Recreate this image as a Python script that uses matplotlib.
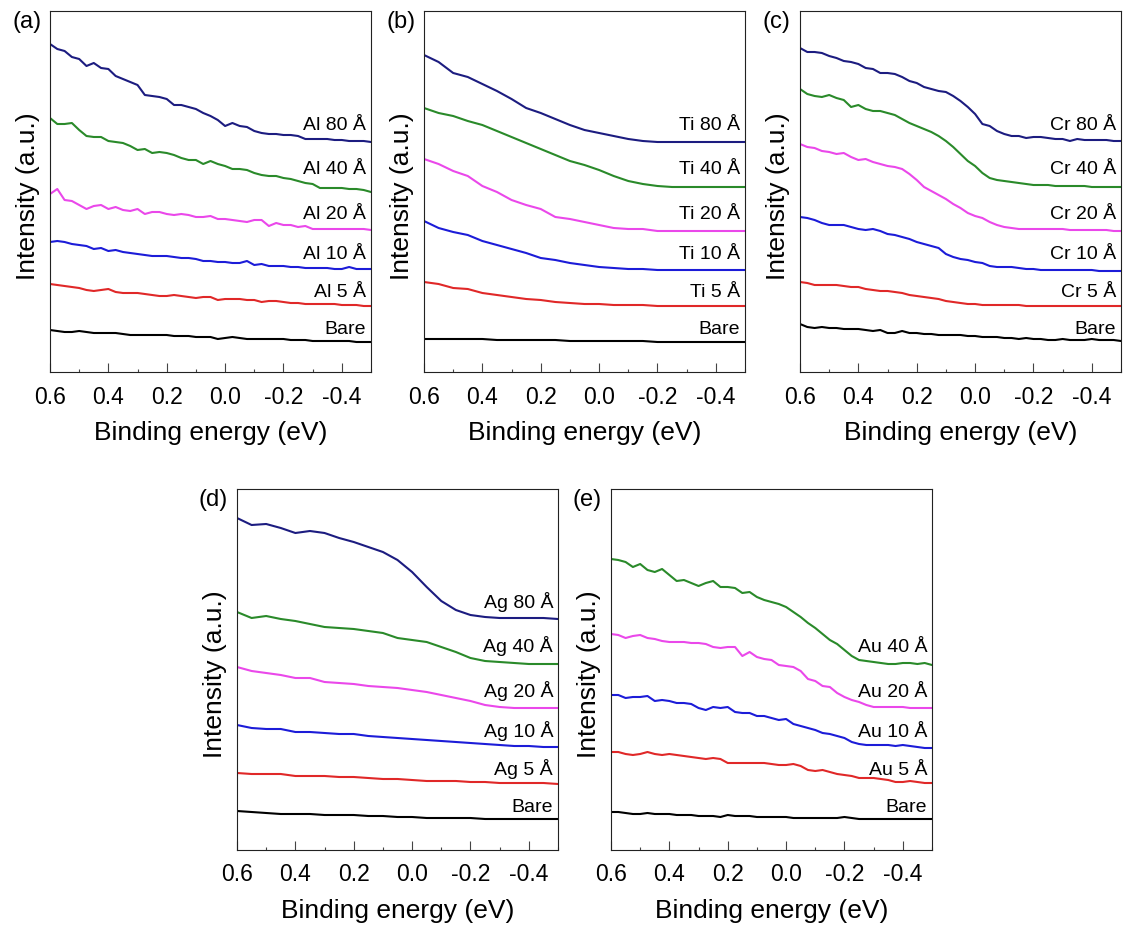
import matplotlib.pyplot as plt
from matplotlib.ticker import MultipleLocator, FormatStrFormatter

plt.rcParams['font.family'] = ['Liberation Sans', 'DejaVu Sans']
plt.rcParams['axes.unicode_minus'] = False

# binding energy grids (eV)
energy = [0.60, 0.55, 0.50, 0.45, 0.40, 0.35, 0.30, 0.25, 0.20, 0.15, 0.10, 0.05,
          0.00, -0.05, -0.10, -0.15, -0.20, -0.25, -0.30, -0.35, -0.40, -0.45, -0.50]
energy_fine = [0.600, 0.575, 0.550, 0.525, 0.500, 0.475, 0.450, 0.425, 0.400,
               0.375, 0.350, 0.325, 0.300, 0.275, 0.250, 0.225, 0.200, 0.175,
               0.150, 0.125, 0.100, 0.075, 0.050, 0.025, 0.000, -0.025, -0.050,
               -0.075, -0.100, -0.125, -0.150, -0.175, -0.200, -0.225, -0.250,
               -0.275, -0.300, -0.325, -0.350, -0.375, -0.400, -0.425, -0.450,
               -0.475, -0.500]

# (a) Al overlayers, stacked intensity (a.u.), fine grid
al_bare = [42, 41, 40, 40, 41, 40, 39, 39, 39, 39, 38, 37, 37, 37, 37, 37, 37, 36, 36, 36, 35, 35, 35,
           33, 34, 35, 34, 33, 33, 33, 33, 33, 33, 32, 32, 32, 31, 31, 31, 31, 31, 31, 30, 30, 30]
al_5 = [88, 87, 86, 85, 84, 82, 81, 82, 83, 80, 79, 79, 79, 78, 77, 76, 76, 77, 76, 75, 74, 75, 75,
        72, 73, 73, 73, 72, 72, 70, 71, 71, 70, 69, 69, 68, 68, 68, 68, 68, 67, 67, 67, 66, 66]
al_10 = [130, 131, 130, 128, 127, 126, 123, 124, 121, 122, 120, 119, 118, 117, 116, 116, 116, 115, 114,
         114, 113, 111, 111, 110, 110, 109, 109, 111, 107, 108, 106, 106, 106, 105, 105, 104, 104, 104,
         104, 103, 103, 105, 103, 103, 103]
al_20 = [178, 183, 172, 171, 167, 163, 166, 167, 163, 165, 162, 161, 163, 158, 160, 160, 158, 157, 158,
         157, 155, 155, 156, 153, 153, 152, 151, 150, 152, 152, 146, 149, 147, 147, 145, 146, 143, 143,
         143, 143, 143, 143, 143, 143, 142]
al_40 = [254, 248, 248, 249, 242, 236, 235, 235, 231, 230, 229, 226, 222, 223, 219, 220, 219, 217, 214,
         212, 212, 208, 211, 208, 206, 203, 203, 202, 199, 197, 196, 196, 194, 193, 191, 189, 188, 184,
         184, 184, 184, 183, 183, 182, 180]
al_80 = [328, 323, 321, 315, 313, 306, 309, 304, 303, 296, 293, 290, 287, 277, 276, 275, 273, 267, 267,
         265, 263, 259, 256, 252, 246, 249, 246, 245, 241, 239, 238, 238, 237, 237, 236, 233, 233, 233,
         233, 232, 232, 231, 231, 231, 230]

# (b) Ti overlayers, coarse grid
ti_bare = [33, 33, 33, 33, 33, 32, 32, 32, 32, 32, 31, 31, 31, 31, 31, 31, 30, 30, 30, 30, 30, 30, 30]
ti_5 = [90, 88, 84, 83, 79, 77, 75, 73, 72, 70, 69, 68, 68, 67, 67, 67, 66, 66, 66, 66, 66, 66, 66]
ti_10 = [151, 144, 140, 137, 131, 127, 123, 119, 114, 112, 109, 107, 105, 104, 103, 103, 102, 102, 102, 102, 102, 102, 102]
ti_20 = [213, 208, 201, 196, 186, 180, 172, 167, 163, 155, 153, 150, 147, 144, 143, 143, 141, 141, 141, 141, 141, 141, 141]
ti_40 = [264, 259, 256, 251, 247, 241, 235, 229, 223, 217, 211, 207, 202, 196, 191, 188, 186, 185, 185, 185, 185, 185, 185]
ti_80 = [317, 310, 299, 295, 288, 281, 273, 264, 259, 253, 247, 242, 239, 236, 233, 231, 230, 230, 230, 230, 230, 230, 230]

# (c) Cr overlayers, fine grid
cr_bare = [48, 45, 44, 45, 44, 44, 43, 43, 43, 42, 41, 42, 39, 39, 41, 39, 39, 38, 38, 37, 37, 37, 37,
           36, 36, 35, 35, 35, 34, 34, 33, 34, 33, 33, 32, 32, 33, 32, 32, 32, 33, 32, 32, 32, 31]
cr_5 = [90, 89, 87, 87, 87, 87, 86, 85, 85, 83, 82, 81, 81, 80, 79, 77, 76, 75, 74, 73, 71, 70, 69,
        68, 68, 67, 67, 67, 67, 67, 67, 66, 66, 66, 66, 66, 66, 66, 66, 66, 66, 66, 66, 66, 66]
cr_10 = [155, 154, 152, 149, 147, 147, 147, 145, 143, 142, 143, 141, 138, 137, 135, 133, 130, 128, 126,
         124, 118, 115, 113, 112, 110, 109, 106, 105, 105, 105, 104, 103, 103, 102, 102, 102, 102, 102,
         102, 102, 102, 101, 101, 101, 101]
cr_20 = [228, 225, 224, 221, 220, 218, 219, 215, 212, 213, 210, 208, 206, 205, 203, 198, 192, 185, 181,
         177, 173, 168, 164, 159, 156, 154, 150, 147, 145, 144, 143, 143, 143, 143, 143, 143, 143, 142,
         142, 142, 142, 142, 142, 141, 141]
cr_40 = [283, 278, 276, 275, 277, 274, 272, 265, 267, 263, 261, 261, 259, 257, 253, 249, 246, 243, 240,
         236, 231, 225, 218, 211, 206, 199, 194, 192, 191, 190, 189, 188, 187, 187, 187, 186, 186, 186,
         186, 186, 185, 185, 185, 185, 185]
cr_80 = [324, 320, 320, 319, 316, 314, 311, 310, 308, 304, 303, 299, 299, 298, 295, 291, 289, 285, 283,
         281, 280, 276, 271, 265, 258, 248, 246, 241, 238, 236, 236, 234, 235, 235, 234, 233, 233, 231,
         233, 232, 232, 232, 232, 231, 231]

# (d) Ag overlayers, coarse grid
ag_bare = [39, 38, 37, 36, 36, 36, 35, 35, 35, 34, 34, 33, 33, 32, 32, 32, 32, 31, 31, 31, 31, 31, 31]
ag_5 = [77, 76, 76, 76, 74, 74, 74, 73, 73, 72, 71, 71, 70, 69, 69, 69, 68, 68, 67, 67, 67, 67, 66]
ag_10 = [125, 122, 121, 121, 118, 118, 117, 116, 116, 114, 113, 112, 111, 110, 109, 108, 107, 106, 105, 104, 104, 103, 103]
ag_20 = [183, 179, 177, 175, 172, 172, 168, 167, 166, 164, 163, 162, 160, 158, 155, 152, 149, 145, 143, 142, 142, 142, 142]
ag_40 = [238, 232, 234, 231, 229, 226, 223, 222, 221, 219, 217, 212, 210, 208, 203, 198, 192, 189, 188, 187, 186, 186, 186]
ag_80 = [332, 325, 326, 322, 317, 319, 317, 312, 308, 303, 298, 290, 278, 263, 249, 240, 235, 233, 232, 232, 232, 232, 231]

# (e) Au overlayers, fine grid
au_bare = [38, 38, 37, 36, 36, 37, 36, 36, 36, 35, 35, 35, 34, 34, 34, 33, 35, 34, 34, 34, 33, 33, 33,
           33, 33, 32, 32, 32, 32, 32, 32, 32, 33, 32, 31, 31, 31, 31, 31, 31, 31, 31, 31, 31, 31]
au_5 = [98, 98, 96, 95, 96, 98, 96, 95, 96, 95, 94, 93, 92, 91, 92, 91, 87, 87, 87, 87, 87, 87, 86,
        85, 85, 86, 84, 80, 79, 80, 78, 76, 75, 74, 72, 72, 72, 71, 70, 68, 68, 69, 68, 67, 67]
au_10 = [155, 155, 152, 153, 153, 154, 149, 150, 149, 147, 147, 146, 142, 140, 143, 142, 143, 138, 137,
         137, 134, 134, 132, 130, 131, 126, 124, 122, 120, 117, 116, 114, 112, 108, 106, 105, 105, 105,
         105, 104, 105, 104, 103, 102, 102]
au_20 = [216, 215, 212, 214, 215, 212, 211, 209, 208, 208, 208, 207, 207, 206, 203, 202, 203, 203, 194,
         198, 193, 191, 190, 185, 184, 183, 179, 171, 169, 164, 163, 157, 153, 150, 148, 145, 143, 143,
         143, 143, 143, 142, 142, 142, 142]
au_40 = [291, 290, 288, 283, 286, 280, 278, 281, 275, 269, 270, 267, 264, 267, 269, 263, 263, 262, 257,
         258, 253, 250, 248, 246, 243, 238, 233, 227, 222, 216, 210, 206, 200, 194, 190, 189, 188, 187,
         186, 186, 187, 187, 186, 187, 185]

thicknesses = ['Bare', '5', '10', '20', '40', '80']
colors = ['black', '#e02828', '#1c1cd8', '#ea48ea', '#2a8a2a', '#1c1c80']
label_y = [39, 76, 114, 154, 199, 243]

panels = [
    ('(a)', 'Al', energy_fine, [al_bare, al_5, al_10, al_20, al_40, al_80]),
    ('(b)', 'Ti', energy, [ti_bare, ti_5, ti_10, ti_20, ti_40, ti_80]),
    ('(c)', 'Cr', energy_fine, [cr_bare, cr_5, cr_10, cr_20, cr_40, cr_80]),
    ('(d)', 'Ag', energy, [ag_bare, ag_5, ag_10, ag_20, ag_40, ag_80]),
    ('(e)', 'Au', energy_fine, [au_bare, au_5, au_10, au_20, au_40]),
]

W, H = 1126, 929
fig = plt.figure(figsize=(W / 100, H / 100), dpi=100)

# left/top corner of each frame in pixels
corners = [(50, 12), (424, 12), (800, 12), (237, 490), (611, 490)]
aw, ah = 321, 361

for (tag, metal, x, spectra), (x0, y0) in zip(panels, corners):
    ax = fig.add_axes([x0 / W, 1 - (y0 + ah) / H, aw / W, ah / H])
    for i, spec in enumerate(spectra):
        ax.plot(x, spec, color=colors[i], lw=1.5)
        txt = 'Bare' if i == 0 else '%s %s Å' % (metal, thicknesses[i])
        ax.text(-0.483, label_y[i], txt, ha='right', va='baseline', fontsize=14)

    ax.set_xlim(0.6, -0.5)
    ax.set_ylim(0, ah)
    ax.set_yticks([])
    ax.xaxis.set_major_locator(MultipleLocator(0.2))
    ax.xaxis.set_minor_locator(MultipleLocator(0.1))
    ax.xaxis.set_major_formatter(FormatStrFormatter('%.1f'))
    ax.tick_params(axis='x', which='major', direction='in', length=6.5, width=0.8,
                   color='#444444', labelsize=16.5, pad=9)
    ax.tick_params(axis='x', which='minor', direction='in', length=2.5, width=0.8,
                   color='#444444')
    for sp in ax.spines.values():
        sp.set_linewidth(0.8)
        sp.set_color('#222222')

    ax.set_xlabel('Binding energy (eV)', fontsize=19, labelpad=9)
    ax.set_ylabel('Intensity (a.u.)', fontsize=19)
    ax.yaxis.set_label_coords(-0.03, 0.49)
    ax.text(-38 / aw, 1 + 1 / ah, tag, transform=ax.transAxes,
            ha='left', va='top', fontsize=17)

fig.savefig('out.png', dpi=100)
